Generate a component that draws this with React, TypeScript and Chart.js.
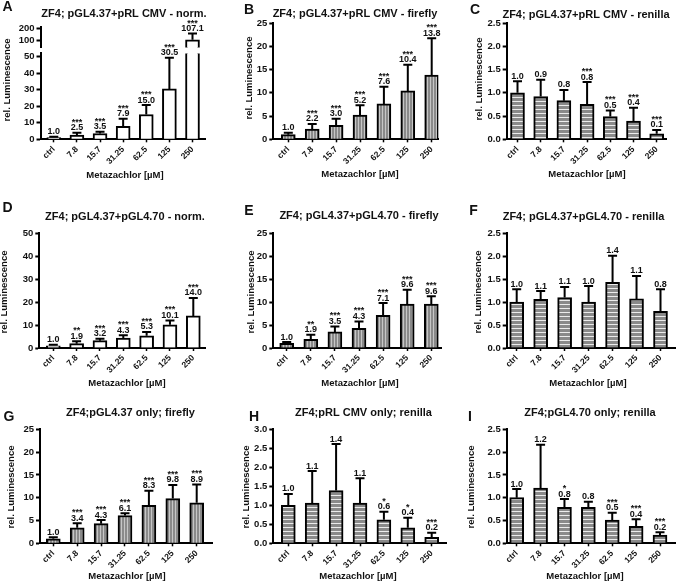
import React, { useEffect, useRef } from 'react';
import { Chart, registerables } from 'chart.js';

Chart.register(...registerables);

const FONT = '"Liberation Sans", Arial, Helvetica, sans-serif';

const doses = ['ctrl', '7.8', '15.7', '31.25', '62.5', '125', '250'];
const xAxisTitle = 'Metazachlor [µM]';
const yAxisTitle = 'rel. Luminescence';

// A: norm.
const meansA = [1.0, 2.5, 3.5, 7.9, 15.0, 30.5, 107.1];
const capsA = [1.5, 4.0, 4.6, 12.5, 20.7, 49.4, 158];
const starsA = ['', '***', '***', '***', '***', '***', '***'];
// B: firefly
const meansB = [1.0, 2.2, 3.0, 5.2, 7.6, 10.4, 13.8];
const capsB = [1.4, 3.3, 4.4, 7.3, 11.3, 16.0, 21.7];
const starsB = ['', '***', '***', '***', '***', '***', '***'];
// C: renilla
const meansC = [1.0, 0.92, 0.83, 0.75, 0.49, 0.39, 0.12];
const capsC = [1.25, 1.28, 1.06, 1.23, 0.62, 0.68, 0.2];
const starsC = ['', '', '', '***', '***', '***', '***'];
// D: norm.
const meansD = [1.0, 1.9, 3.2, 4.3, 5.3, 10.1, 14.0];
const capsD = [1.4, 2.9, 4.0, 5.6, 7.0, 12.0, 21.8];
const starsD = ['', '**', '***', '***', '***', '***', '***'];
// E: firefly
const meansE = [1.0, 1.9, 3.5, 4.3, 7.1, 9.6, 9.6];
const capsE = [1.3, 2.9, 4.7, 5.8, 9.8, 12.7, 11.3];
const starsE = ['', '**', '***', '***', '***', '***', '***'];
// F: renilla
const meansF = [1.0, 1.06, 1.1, 1.0, 1.43, 1.07, 0.8];
const capsF = [1.28, 1.24, 1.33, 1.35, 2.01, 1.57, 1.28];
const starsF = ['', '', '', '', '', '', ''];
// G: firefly
const meansG = [1.0, 3.4, 4.3, 6.1, 8.3, 9.8, 8.9];
const capsG = [1.3, 4.4, 5.1, 6.6, 11.5, 12.8, 12.9];
const starsG = ['', '***', '***', '***', '***', '***', '***'];
// H: renilla
const meansH = [1.0, 1.06, 1.39, 1.06, 0.62, 0.41, 0.16];
const capsH = [1.3, 1.9, 2.61, 1.71, 0.83, 0.67, 0.28];
const starsH = ['', '', '', '', '*', '*', '***'];
// I: renilla
const meansI = [1.0, 1.21, 0.79, 0.79, 0.51, 0.37, 0.18];
const capsI = [1.19, 2.16, 0.97, 0.91, 0.67, 0.53, 0.24];
const starsI = ['', '', '*', '', '***', '***', '***'];

const colX = [0, 225, 450];
const colW = [225, 225, 227];
const rowY = [0, 195, 390];
const rowH = [195, 195, 194];

type PanelCfg = {
  key: string;
  letter: string;
  title: string;
  kind: 'norm' | 'firefly' | 'renilla';
  means: number[];
  caps: number[];
  stars: string[];
  col: number;
  row: number;
  yMin: number;
  yMax: number;
  yStep: number;
  yDec: number;
  yTicks?: number[];
  L: number;
  R: number;
  c0: number;
  c6: number;
  T: number;
  B: number;
  showX: boolean;
  decorate: boolean;
  letterPos: number[];
  titlePos: number[];
  yTitlePos: number[];
  xTitlePos: number[];
};

const panels: PanelCfg[] = [
  { key: 'A', letter: 'A', title: 'ZF4; pGL4.37+pRL CMV - norm.', kind: 'norm', means: meansA, caps: capsA, stars: starsA,
    col: 0, row: 0, yMin: 0, yMax: 52, yStep: 10, yDec: 0, L: 40.5, R: 205, c0: 53.8, c6: 192.5, T: 53.4, B: 139.3,
    showX: true, decorate: true, letterPos: [7.5, 7], titlePos: [124, 14], yTitlePos: [7, 80], xTitlePos: [125, 175] },
  { key: 'A2', letter: '', title: '', kind: 'norm', means: meansA, caps: capsA, stars: starsA,
    col: 0, row: 0, yMin: 45, yMax: 210, yStep: 100, yDec: 0, yTicks: [100, 200], L: 40.5, R: 205, c0: 53.8, c6: 192.5, T: 27.1, B: 47.5,
    showX: false, decorate: false, letterPos: [0, 0], titlePos: [0, 0], yTitlePos: [0, 0], xTitlePos: [0, 0] },
  { key: 'B', letter: 'B', title: 'ZF4; pGL4.37+pRL CMV - firefly', kind: 'firefly', means: meansB, caps: capsB, stars: starsB,
    col: 1, row: 0, yMin: 0, yMax: 25, yStep: 5, yDec: 0, L: 273.3, R: 438.3, c0: 288.3, c6: 431.7, T: 23, B: 139.3,
    showX: true, decorate: true, letterPos: [249, 10], titlePos: [355, 13.5], yTitlePos: [249, 78], xTitlePos: [360, 174] },
  { key: 'C', letter: 'C', title: 'ZF4; pGL4.37+pRL CMV - renilla', kind: 'renilla', means: meansC, caps: capsC, stars: starsC,
    col: 2, row: 0, yMin: 0, yMax: 2.5, yStep: 0.5, yDec: 1, L: 506.7, R: 666.7, c0: 517.5, c6: 656.7, T: 23, B: 139.3,
    showX: true, decorate: true, letterPos: [475, 10], titlePos: [586, 15], yTitlePos: [479, 79], xTitlePos: [587, 174] },
  { key: 'D', letter: 'D', title: 'ZF4; pGL4.37+pGL4.70 - norm.', kind: 'norm', means: meansD, caps: capsD, stars: starsD,
    col: 0, row: 1, yMin: 0, yMax: 50, yStep: 10, yDec: 0, L: 39.3, R: 205, c0: 53.3, c6: 193.3, T: 233.3, B: 348,
    showX: true, decorate: true, letterPos: [7.5, 208], titlePos: [125, 217], yTitlePos: [4.5, 292], xTitlePos: [127, 383] },
  { key: 'E', letter: 'E', title: 'ZF4; pGL4.37+pGL4.70 - firefly', kind: 'firefly', means: meansE, caps: capsE, stars: starsE,
    col: 1, row: 1, yMin: 0, yMax: 25, yStep: 5, yDec: 0, L: 273.3, R: 441.7, c0: 286.7, c6: 431.3, T: 233.3, B: 348,
    showX: true, decorate: true, letterPos: [249, 211], titlePos: [359, 215.5], yTitlePos: [251, 292], xTitlePos: [360, 383] },
  { key: 'F', letter: 'F', title: 'ZF4; pGL4.37+pGL4.70 - renilla', kind: 'renilla', means: meansF, caps: capsF, stars: starsF,
    col: 2, row: 1, yMin: 0, yMax: 2.5, yStep: 0.5, yDec: 1, L: 506.7, R: 675, c0: 516.7, c6: 660.5, T: 233.3, B: 348,
    showX: true, decorate: true, letterPos: [473.5, 211], titlePos: [583.5, 217], yTitlePos: [478.5, 292], xTitlePos: [588, 383] },
  { key: 'G', letter: 'G', title: 'ZF4;pGL4.37 only; firefly', kind: 'firefly', means: meansG, caps: capsG, stars: starsG,
    col: 0, row: 2, yMin: 0, yMax: 25, yStep: 5, yDec: 0, L: 40, R: 212.7, c0: 53.3, c6: 196.7, T: 429.3, B: 543.3,
    showX: true, decorate: true, letterPos: [9, 417], titlePos: [130.5, 413], yTitlePos: [11, 487], xTitlePos: [127, 576] },
  { key: 'H', letter: 'H', title: 'ZF4;pRL CMV only; renilla', kind: 'renilla', means: meansH, caps: capsH, stars: starsH,
    col: 1, row: 2, yMin: 0, yMax: 3, yStep: 0.5, yDec: 1, L: 273.3, R: 446.7, c0: 288.3, c6: 431.7, T: 429.3, B: 543.3,
    showX: true, decorate: true, letterPos: [254, 417], titlePos: [363.5, 412.5], yTitlePos: [246, 487], xTitlePos: [358, 576] },
  { key: 'I', letter: 'I', title: 'ZF4;pGL4.70 only; renilla', kind: 'renilla', means: meansI, caps: capsI, stars: starsI,
    col: 2, row: 2, yMin: 0, yMax: 2.5, yStep: 0.5, yDec: 1, L: 506.7, R: 675, c0: 516.7, c6: 660, T: 429.3, B: 543.3,
    showX: true, decorate: true, letterPos: [470, 417], titlePos: [590, 413], yTitlePos: [471, 487], xTitlePos: [585, 576] },
];

function makeFill(ctx: CanvasRenderingContext2D, kind: string): any {
  if (kind === 'norm') return '#ffffff';
  const c = document.createElement('canvas');
  if (kind === 'firefly') {
    c.width = 3;
    c.height = 1;
    const g = c.getContext('2d')!;
    g.fillStyle = '#8a8a8a';
    g.fillRect(0, 0, 3, 1);
    g.fillStyle = '#c6c6c6';
    g.fillRect(1, 0, 1, 1);
  } else {
    c.width = 1;
    c.height = 4;
    const g = c.getContext('2d')!;
    g.fillStyle = '#8a8a8a';
    g.fillRect(0, 0, 1, 4);
    g.fillStyle = '#ececec';
    g.fillRect(0, 1, 1, 1);
  }
  return ctx.createPattern(c, 'repeat');
}

function Panel({ cfg }: { cfg: PanelCfg }) {
  const ref = useRef<HTMLCanvasElement>(null);
  const x0 = colX[cfg.col];
  const y0 = rowY[cfg.row];
  const w = colW[cfg.col];
  const h = rowH[cfg.row];

  useEffect(() => {
    const canvas = ref.current!;
    const ctx = canvas.getContext('2d')!;
    const fill = makeFill(ctx, cfg.kind);
    const k = (cfg.c6 - cfg.c0) / 6;
    const xMin = -(cfg.c0 - cfg.L) / k;
    const xMax = 6 + (cfg.R - cfg.c6) / k;

    const deco = {
      id: 'deco_' + cfg.key,
      afterDatasetsDraw(chart: any) {
        const c = chart.ctx as CanvasRenderingContext2D;
        const ys = chart.scales.y;
        const meta = chart.getDatasetMeta(0);
        c.save();
        cfg.means.forEach((m, i) => {
          if (m < ys.min || m > ys.max) return;
          const el: any = meta.data[i];
          const x = el.x;
          const yTop = ys.getPixelForValue(m);
          const yCap = ys.getPixelForValue(cfg.caps[i]);
          c.strokeStyle = '#000';
          c.lineWidth = 2;
          c.beginPath();
          c.moveTo(x, yTop);
          c.lineTo(x, yCap);
          c.moveTo(x - 4.5, yCap);
          c.lineTo(x + 4.5, yCap);
          c.stroke();
          c.fillStyle = '#111';
          c.textAlign = 'center';
          c.textBaseline = 'alphabetic';
          c.font = `bold 9px ${FONT}`;
          const vb = yCap - 2.5;
          c.fillText(m.toFixed(1), x, vb);
          if (cfg.stars[i]) c.fillText(cfg.stars[i], x, vb - 5.5);
        });
        c.restore();
      },
      afterDraw(chart: any) {
        if (!cfg.decorate) return;
        const c = chart.ctx as CanvasRenderingContext2D;
        c.save();
        c.fillStyle = '#111';
        c.textAlign = 'center';
        c.textBaseline = 'middle';
        c.font = `bold 14px ${FONT}`;
        c.fillText(cfg.letter, cfg.letterPos[0] - x0, cfg.letterPos[1] - y0);
        c.font = `bold 11px ${FONT}`;
        c.fillText(cfg.title, cfg.titlePos[0] - x0, cfg.titlePos[1] - y0);
        c.font = `bold 9.5px ${FONT}`;
        c.fillText(xAxisTitle, cfg.xTitlePos[0] - x0, cfg.xTitlePos[1] - y0);
        c.translate(cfg.yTitlePos[0] - x0, cfg.yTitlePos[1] - y0);
        c.rotate(-Math.PI / 2);
        c.fillText(yAxisTitle, 0, 0);
        c.restore();
      },
    };

    const options: any = {
      animation: false,
      responsive: false,
      maintainAspectRatio: false,
      devicePixelRatio: 1,
      events: [],
      layout: {
        autoPadding: false,
        padding: {
          left: 0,
          top: cfg.T - y0,
          right: x0 + w - cfg.R,
          bottom: cfg.showX ? 0 : y0 + h - cfg.B,
        },
      },
      plugins: { legend: { display: false }, tooltip: { enabled: false }, title: { display: false } },
      scales: {
        x: {
          type: 'linear',
          display: cfg.showX,
          min: xMin,
          max: xMax,
          offset: false,
          border: { display: true, width: 2, color: '#000' },
          grid: { display: true, offset: false, drawOnChartArea: false, drawTicks: true, tickLength: 3, tickWidth: 1.5, tickColor: '#000', color: '#000' },
          ticks: {
            stepSize: 1,
            includeBounds: false,
            autoSkip: false,
            maxRotation: 45,
            minRotation: 45,
            padding: 2,
            color: '#111',
            font: { family: FONT, size: 8.5, weight: 'bold' },
            callback: (v: any) => doses[Math.round(Number(v))] ?? '',
          },
          afterFit: (s: any) => {
            s.height = cfg.showX ? y0 + h - cfg.B : 0;
            s.paddingLeft = 0;
            s.paddingRight = 0;
            s.paddingTop = 0;
            s.paddingBottom = 0;
          },
        },
        y: {
          type: 'linear',
          min: cfg.yMin,
          max: cfg.yMax,
          border: { display: true, width: 2, color: '#000' },
          grid: { display: true, drawOnChartArea: false, drawTicks: true, tickLength: 4, tickWidth: 2, tickColor: '#000', color: '#000' },
          ticks: {
            stepSize: cfg.yStep,
            includeBounds: false,
            autoSkip: false,
            padding: 2,
            color: '#111',
            font: { family: FONT, size: 9.5, weight: 'bold' },
            callback: (v: any) => Number(v).toFixed(cfg.yDec),
          },
          afterBuildTicks: (s: any) => {
            if (cfg.yTicks) s.ticks = cfg.yTicks.map((v) => ({ value: v }));
          },
          afterFit: (s: any) => {
            s.width = cfg.L - x0;
            s.paddingLeft = 0;
            s.paddingRight = 0;
            s.paddingTop = 0;
            s.paddingBottom = 0;
          },
        },
      },
    };

    const chart = new Chart(canvas, {
      type: 'bar',
      data: {
        datasets: [
          {
            data: cfg.means.map((v, i) => ({ x: i, y: v })),
            backgroundColor: fill,
            borderColor: '#000',
            borderWidth: 2,
            borderSkipped: 'start',
            barThickness: 14,
            clip: 0,
          } as any,
        ],
      },
      options,
      plugins: [deco],
    });
    return () => chart.destroy();
  }, []);

  return (
    <canvas
      ref={ref}
      width={w}
      height={h}
      style={{ position: 'absolute', left: x0, top: y0, width: w, height: h }}
    />
  );
}

export default function App() {
  return (
    <div style={{ position: 'absolute', left: 0, top: 0, width: 677, height: 584, background: '#fff', overflow: 'hidden' }}>
      {panels.map((p) => (
        <Panel key={p.key} cfg={p} />
      ))}
    </div>
  );
}
